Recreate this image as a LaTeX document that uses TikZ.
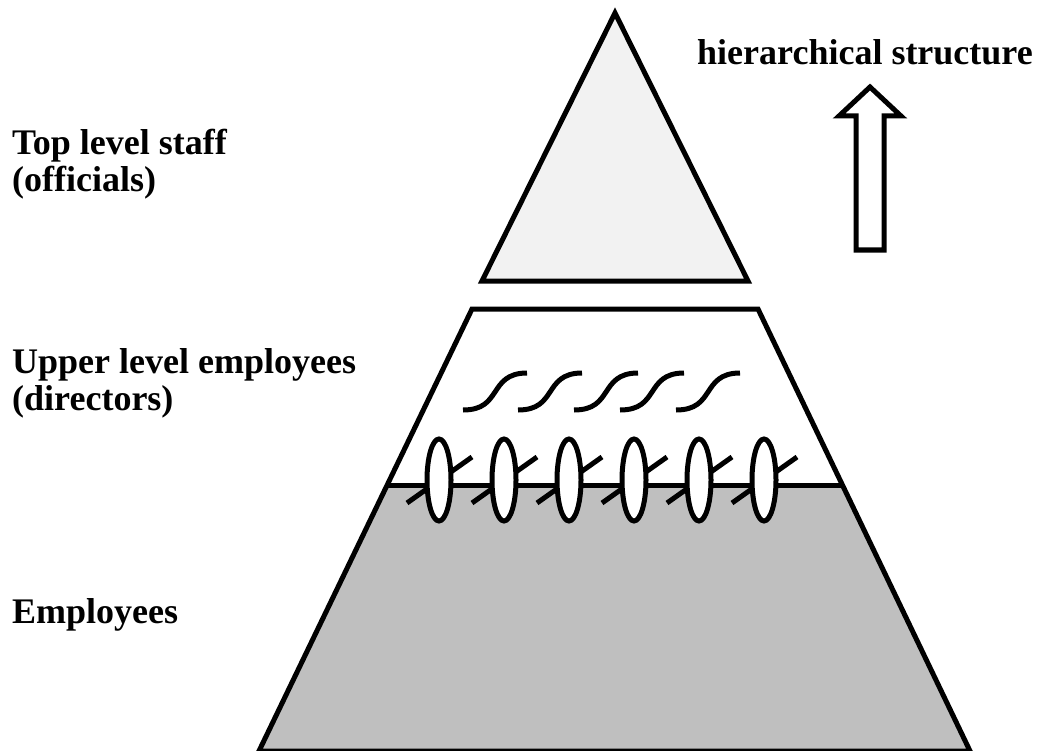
\documentclass[tikz,border=0pt]{standalone}
\usepackage{fontspec}
\setmainfont{Liberation Serif}
\tikzset{
  lbl/.style={font=\bfseries\fontsize{36}{37}\selectfont, inner sep=0pt, align=left, anchor=base west},
  thickline/.style={line width=5pt, line join=miter}
}
\begin{document}
\begin{tikzpicture}[x=1pt,y=-1pt]
\useasboundingbox (0,0) rectangle (1043,751);
%Top triangle
\draw [thickline, fill=black!5] (615,13) -- (748,281) -- (482,281) -- cycle;
%Lower part of the trapezoid
\fill [black!25] (387,485) -- (842,485) -- (970,751) -- (259,751) -- cycle;
\draw [thickline] (259,751) -- (472,309) -- (758,309) -- (970,751) -- cycle;
\draw [thickline] (387,485) -- (842,485);
%Waves
\draw [thickline] (463,410) .. controls (483,410) and (489,401) .. (495,392) .. controls (501,383) and (507,373) .. (527,373);
\draw [thickline] (518,410) .. controls (538,410) and (544,401) .. (550,392) .. controls (556,383) and (562,373) .. (582,373);
\draw [thickline] (574,410) .. controls (594,410) and (600,401) .. (606,392) .. controls (612,383) and (618,373) .. (638,373);
\draw [thickline] (620,410) .. controls (640,410) and (646,401) .. (652,392) .. controls (658,383) and (664,373) .. (684,373);
\draw [thickline] (676,410) .. controls (696,410) and (702,401) .. (708,392) .. controls (714,383) and (720,373) .. (740,373);
%Slashes
\draw [thickline] (407,503) -- (472,457);
\draw [thickline] (472,503) -- (537,457);
\draw [thickline] (537,503) -- (602,457);
\draw [thickline] (602,503) -- (667,457);
\draw [thickline] (667,503) -- (732,457);
\draw [thickline] (732,503) -- (797,457);
%Ellipses
\draw [thickline, fill=white] (439,480) ellipse [x radius=12, y radius=41];
\draw [thickline, fill=white] (504,480) ellipse [x radius=12, y radius=41];
\draw [thickline, fill=white] (569,480) ellipse [x radius=12, y radius=41];
\draw [thickline, fill=white] (634,480) ellipse [x radius=12, y radius=41];
\draw [thickline, fill=white] (699,480) ellipse [x radius=12, y radius=41];
\draw [thickline, fill=white] (764,480) ellipse [x radius=12, y radius=41];
%Arrow
\draw [thickline, fill=white] (856,250) -- (856,116) -- (839,116) -- (870,87) -- (901,116) -- (884,116) -- (884,250) -- cycle;
%Labels
\node (hier) [lbl] at (697,65) {hierarchical structure};
\node (topstaff) [lbl] at (12,192) {Top level staff\\(officials)};
\node (upper) [lbl] at (12,410) {Upper level employees\\(directors)};
\node (empl) [lbl] at (12,623) {Employees};
\end{tikzpicture}
\end{document}
